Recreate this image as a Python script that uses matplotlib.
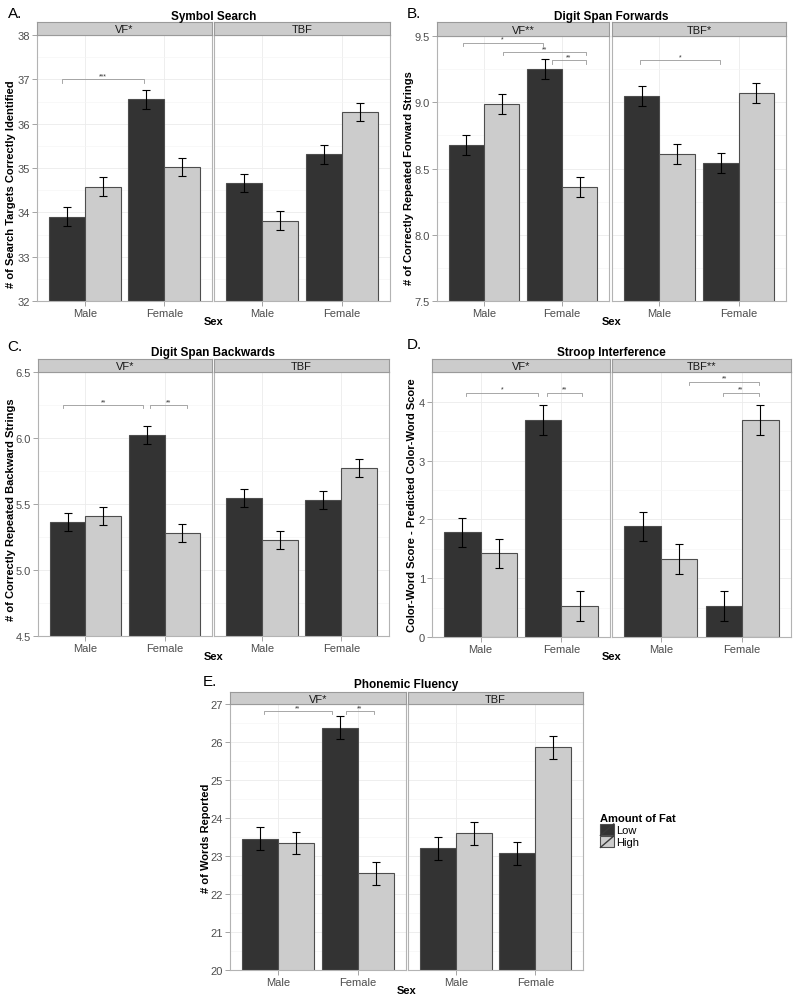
import matplotlib
matplotlib.use("Agg")
import matplotlib.pyplot as plt
from matplotlib.patches import Patch, Rectangle
from matplotlib.lines import Line2D
from matplotlib.legend_handler import HandlerPatch

plt.rcParams['font.family'] = ['Liberation Sans', 'DejaVu Sans']

sexes = ["Male", "Female"]
fat_levels = ["Low", "High"]

# A. Symbol Search
ss_facets = ["VF*", "TBF"]
ss_low = [[33.90, 36.55], [34.66, 35.31]]
ss_high = [[34.58, 35.02], [33.81, 36.26]]
ss_se = 0.21
ss_brackets = [[(0.71, 1.74, 37.0, "***")], []]

# B. Digit Span Forwards
dsf_facets = ["VF**", "TBF*"]
dsf_low = [[8.675, 9.25], [9.05, 8.54]]
dsf_high = [[8.985, 8.36], [8.61, 9.07]]
dsf_se = 0.075
dsf_brackets = [[(0.73, 1.75, 9.45, "*"), (1.24, 2.30, 9.38, "**"), (1.87, 2.30, 9.316, "**")],
                [(0.76, 1.77, 9.316, "*")]]

# C. Digit Span Backwards
dsb_facets = ["VF*", "TBF"]
dsb_low = [[5.365, 6.02], [5.545, 5.53]]
dsb_high = [[5.41, 5.28], [5.23, 5.775]]
dsb_se = 0.068
dsb_brackets = [[(0.72, 1.73, 6.25, "**"), (1.82, 2.28, 6.25, "**")], []]

# D. Stroop Interference
st_facets = ["VF*", "TBF**"]
st_low = [[1.78, 3.69], [1.885, 0.525]]
st_high = [[1.425, 0.525], [1.33, 3.69]]
st_se = 0.25
st_brackets = [[(0.815, 1.71, 4.16, "*"), (1.82, 2.26, 4.16, "**")],
               [(1.35, 2.21, 4.345, "**"), (1.76, 2.21, 4.16, "**")]]

# E. Phonemic Fluency
pf_facets = ["VF*", "TBF"]
pf_low = [[23.45, 26.38], [23.20, 23.07]]
pf_high = [[23.34, 22.54], [23.60, 25.86]]
pf_se = 0.30
pf_brackets = [[(0.82, 1.68, 26.815, "**"), (1.85, 2.20, 26.815, "**")], []]

W, H = 800, 1003
fig = plt.figure(figsize=(W / 100, H / 100), dpi=100)

DARK = "#333333"
LIGHT = "#CCCCCC"
EDGE = "#4D4D4D"
BORDER = "#B3B3B3"
FS = 8


def px(x0, x1, ytop, ybot):
    return [x0 / W, 1 - ybot / H, (x1 - x0) / W, (ybot - ytop) / H]


def panel(letter, title, ylabel, facets, low, high, se, brackets, ylim, yticks, fmt,
          xs, strip_top, top, bottom, title_y, letter_xy, ylabel_xy, sex_y):
    for i in range(2):
        x0, x1 = xs[i]
        ax = fig.add_axes(px(x0, x1, top, bottom))
        pos = [1, 2]
        ax.bar([p - 0.225 for p in pos], low[i], width=0.45, color=DARK, edgecolor=EDGE, lw=0.8, zorder=2)
        ax.bar([p + 0.225 for p in pos], high[i], width=0.45, color=LIGHT, edgecolor=EDGE, lw=0.8, zorder=2)
        ax.errorbar([p - 0.225 for p in pos], low[i], yerr=se, fmt='none', ecolor='black',
                    elinewidth=0.8, capsize=2.8, capthick=0.8, zorder=3)
        ax.errorbar([p + 0.225 for p in pos], high[i], yerr=se, fmt='none', ecolor='black',
                    elinewidth=0.8, capsize=2.8, capthick=0.8, zorder=3)
        ax.set_xlim(0.4, 2.6)
        ax.set_ylim(*ylim)
        ax.set_xticks(pos)
        ax.set_xticklabels(sexes, fontsize=FS, color="#4D4D4D")
        ax.set_yticks(yticks)
        minor = [(yticks[k] + yticks[k + 1]) / 2 for k in range(len(yticks) - 1)]
        ax.set_yticks(minor, minor=True)
        ax.grid(True, which='major', color="#EBEBEB", lw=0.6, zorder=0)
        ax.grid(True, which='minor', axis='y', color="#F5F5F5", lw=0.5, zorder=0)
        ax.set_axisbelow(True)
        ax.tick_params(axis='both', length=3.5, width=0.5, color="#808080", pad=1.5)
        ax.tick_params(axis='y', which='minor', length=0)
        if i == 0:
            ax.set_yticklabels([fmt.format(v) for v in yticks], fontsize=FS, color="#4D4D4D")
        else:
            ax.tick_params(axis='y', length=0, labelleft=False)
        for s in ax.spines.values():
            s.set_color(BORDER)
            s.set_linewidth(0.8)
        drop = 0.012 * (ylim[1] - ylim[0])
        for bx0, bx1, by, lab in brackets[i]:
            ax.plot([bx0, bx0, bx1, bx1], [by - drop, by, by, by - drop], color="#999999", lw=0.6, zorder=4)
            ax.text((bx0 + bx1) / 2, by, lab, ha='center', va='bottom', fontsize=5, color="#333333")

        sax = fig.add_axes(px(x0, x1, strip_top, top))
        sax.set_facecolor(LIGHT)
        sax.set_xticks([])
        sax.set_yticks([])
        for s in sax.spines.values():
            s.set_color("#9A9A9A")
            s.set_linewidth(0.8)
        sax.text(0.5, 0.45, facets[i], ha='center', va='center', fontsize=FS, color="#1A1A1A",
                 transform=sax.transAxes)

    cx = (xs[0][0] + xs[1][1]) / 2
    fig.text(cx / W, 1 - title_y / H, title, ha='center', va='center', fontsize=8.5, fontweight='bold')
    fig.text(letter_xy[0] / W, 1 - letter_xy[1] / H, letter, ha='left', va='center', fontsize=11)
    fig.text(ylabel_xy[0] / W, 1 - ylabel_xy[1] / H, ylabel, ha='center', va='center', rotation=90,
             fontsize=FS, fontweight='bold')
    fig.text(cx / W, 1 - sex_y / H, "Sex", ha='center', va='center', fontsize=FS, fontweight='bold')


panel("A.", "Symbol Search", "# of Search Targets Correctly Identified", ss_facets, ss_low, ss_high, ss_se,
      ss_brackets, (32, 38), [32, 33, 34, 35, 36, 37, 38], "{:.0f}",
      [(37, 212), (214, 390)], 23, 36, 302, 17, (8, 14), (11, 184), 322)

panel("B.", "Digit Span Forwards", "# of Correctly Repeated Forward Strings", dsf_facets, dsf_low, dsf_high, dsf_se,
      dsf_brackets, (7.5, 9.5), [7.5, 8.0, 8.5, 9.0, 9.5], "{:.1f}",
      [(437, 609), (612, 786)], 23, 37, 302, 17, (407, 14), (409, 178), 322)

panel("C.", "Digit Span Backwards", "# of Correctly Repeated Backward Strings", dsb_facets, dsb_low, dsb_high, dsb_se,
      dsb_brackets, (4.5, 6.5), [4.5, 5.0, 5.5, 6.0, 6.5], "{:.1f}",
      [(38, 212), (214, 389)], 360, 373, 637, 353, (7, 347), (11, 510), 657)

panel("D.", "Stroop Interference", "Color-Word Score - Predicted Color-Word Score", st_facets, st_low, st_high, st_se,
      st_brackets, (0, 4.51), [0, 1, 2, 3, 4], "{:.0f}",
      [(432, 610), (612, 791)], 360, 373, 638, 353, (407, 345), (412, 505), 657)

panel("E.", "Phonemic Fluency", "# of Words Reported", pf_facets, pf_low, pf_high, pf_se,
      pf_brackets, (20, 27), [20, 21, 22, 23, 24, 25, 26, 27], "{:.0f}",
      [(230, 406), (408, 583)], 693, 705, 971, 685, (203, 682), (206, 838), 991)


class SlashHandler(HandlerPatch):
    def create_artists(self, legend, orig_handle, xdescent, ydescent, width, height, fontsize, trans):
        r = Rectangle((-xdescent, -ydescent), width, height, facecolor=orig_handle.get_facecolor(),
                      edgecolor=EDGE, lw=0.8, transform=trans)
        l = Line2D([-xdescent, -xdescent + width], [-ydescent, -ydescent + height], color="#3A3A3A",
                   lw=1.0, transform=trans)
        return [r, l]


handles = [Patch(facecolor=DARK), Patch(facecolor=LIGHT)]
leg = fig.legend(handles, fat_levels, loc='upper left', bbox_to_anchor=(596 / W, 1 - 810 / H),
                 frameon=False, fontsize=FS, title="Amount of Fat",
                 title_fontproperties={'weight': 'bold', 'size': FS},
                 handler_map={Patch: SlashHandler()}, handlelength=1.2, handleheight=1.2,
                 labelspacing=0.05, handletextpad=0.2, borderaxespad=0, alignment='left')

fig.savefig("out.png", dpi=100)
